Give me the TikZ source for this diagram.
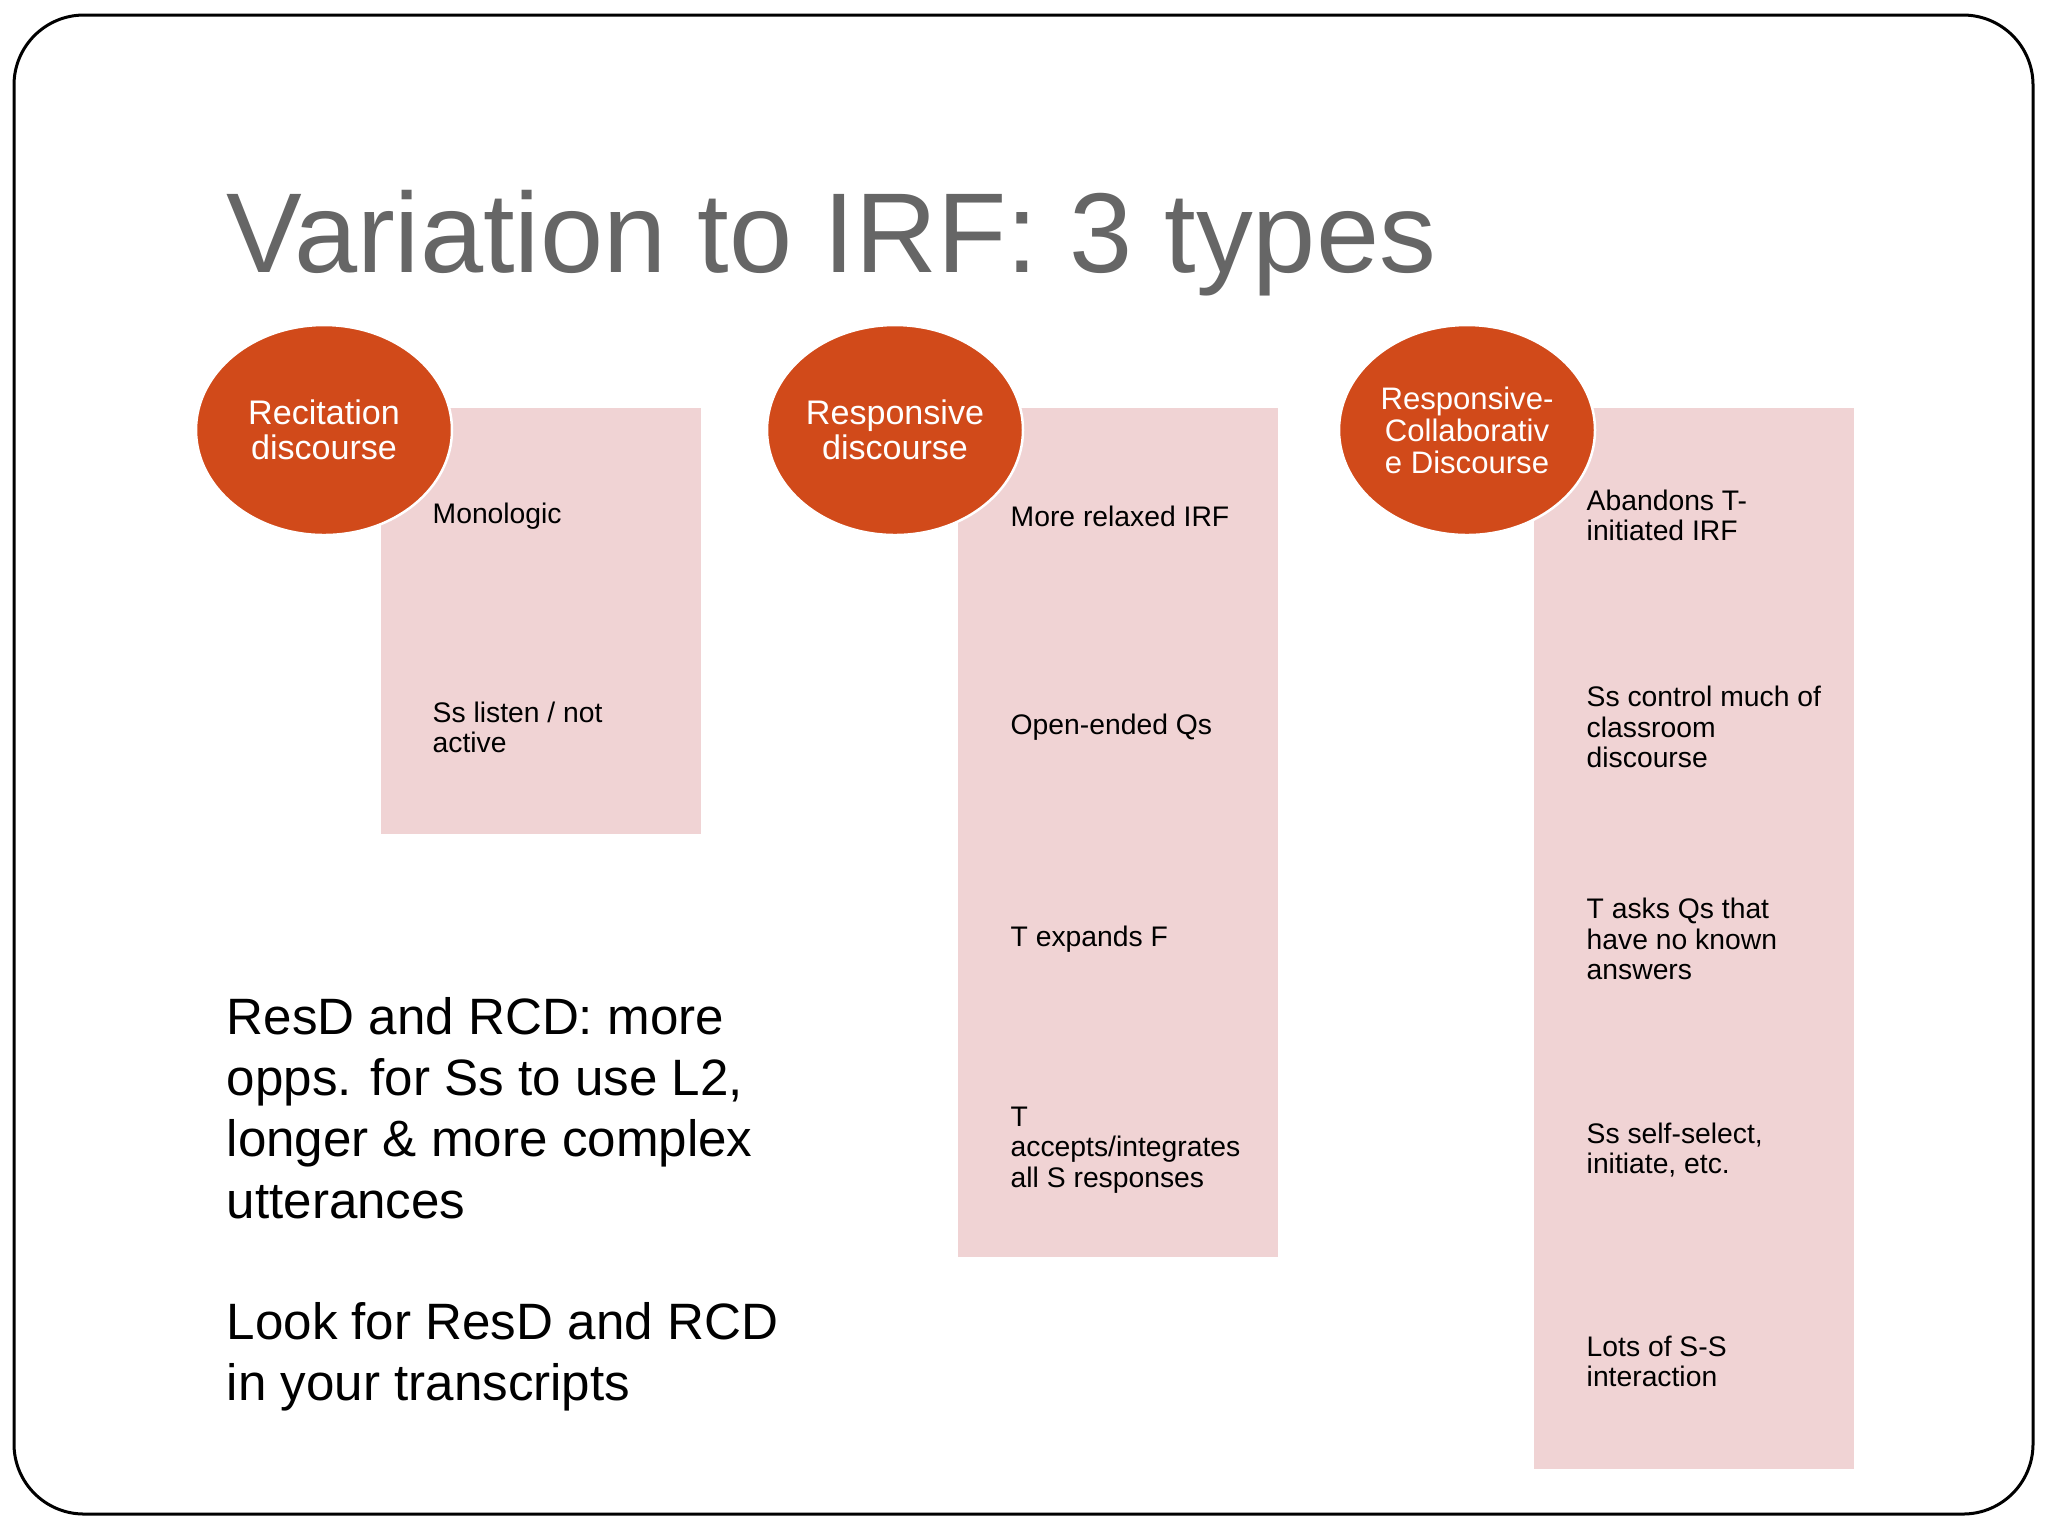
\documentclass[tikz,border=0pt]{standalone}
\usepackage{fontspec}
\setmainfont{Liberation Sans}
\usetikzlibrary{shapes.geometric}
\definecolor{ellcol}{HTML}{D14A1A}
\definecolor{boxcol}{HTML}{F0D3D4}
\definecolor{titlecol}{HTML}{666666}
\tikzset{
  ell/.style={ellipse, fill=ellcol, draw=white, line width=0.25mm, minimum width=25.6mm, minimum height=21mm, inner sep=0pt, text=white, align=center},
  pinkbox/.style={rectangle, fill=boxcol, draw=none, anchor=north west, inner sep=0pt, minimum width=32mm},
  item/.style={anchor=west, inner sep=0pt, align=left, text=black, font=\fontsize{8.05pt}{8.6pt}\selectfont},
  bigtxt/.style={anchor=west, inner sep=0pt, align=left, text=black, font=\fontsize{14.55pt}{17.4pt}\selectfont},
}
\begin{document}
\begin{tikzpicture}[x=0.1mm,y=-0.1mm]
\useasboundingbox (0,0) rectangle (2048,1536);
\fill[white] (0,0) rectangle (2048,1536);
\draw[line width=0.3mm, rounded corners=7mm] (14,15) rectangle (2033,1514);

\node[anchor=base west, inner sep=0pt, text=titlecol, font=\fontsize{32.3pt}{38pt}\selectfont] (title) at (226,272) {Variation to IRF: 3 types};

% boxes
\node[pinkbox, minimum height=42.6mm] (r1) at (380,407) {};
\node[pinkbox, minimum height=84.9mm] (r2) at (957,407) {};
\node[pinkbox, minimum height=106.1mm] (r3) at (1533,407) {};

% ellipses
\node[ell, font=\fontsize{9.7pt}{10pt}\selectfont] (e1) at (324,430) {Recitation\\discourse};
\node[ell, font=\fontsize{9.7pt}{10pt}\selectfont] (e2) at (895,430) {Responsive\\discourse};
\node[ell, font=\fontsize{8.85pt}{9.1pt}\selectfont] (e3) at (1467,430) {Responsive-\\Collaborativ\\e Discourse};

% items box 1
\node[item] (a1) at (432,516) {Monologic};
\node[item] (a2) at (432,727) {Ss listen / not\\active};
% items box 2
\node[item] (b1) at (1010,516) {More relaxed IRF};
\node[item] (b2) at (1010,727) {Open-ended Qs};
\node[item] (b3) at (1010,939) {T expands F};
\node[item] (b4) at (1010,1150) {T\\accepts/integrates\\all S responses};
% items box 3
\node[item] (c1) at (1586,515) {Abandons T-\\initiated IRF};
\node[item] (c2) at (1586,727) {Ss control much of\\classroom\\discourse};
\node[item] (c3) at (1586,939) {T asks Qs that\\have no known\\answers};
\node[item] (c4) at (1586,1150) {Ss self-select,\\initiate, etc.};
\node[item] (c5) at (1586,1361) {Lots of S-S\\interaction};

% bottom text
\node[bigtxt] (t1) at (226,1108) {ResD and RCD: more\\opps. for Ss to use L2,\\longer \& more complex\\utterances};
\node[bigtxt] (t2) at (226,1357) {Look for ResD and RCD\\in your transcripts};
\end{tikzpicture}
\end{document}
